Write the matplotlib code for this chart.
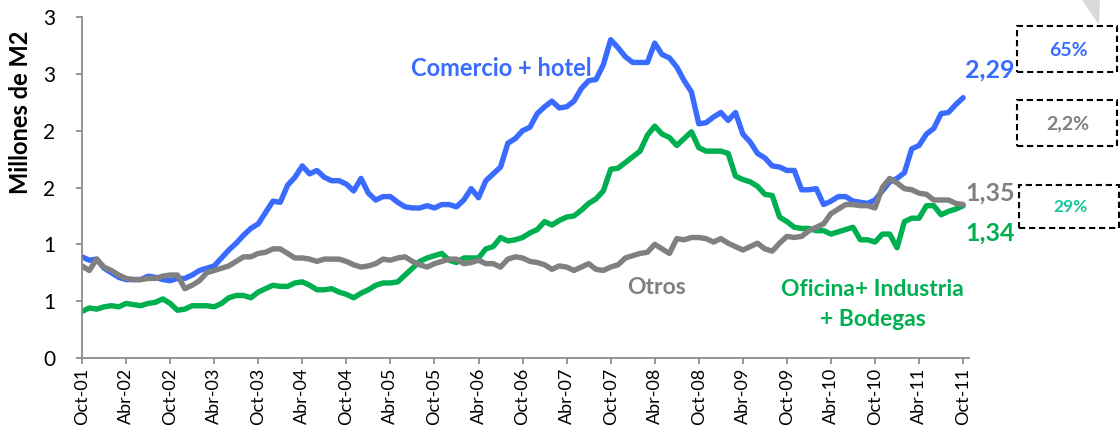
import numpy as np
import matplotlib.pyplot as plt
from matplotlib.patches import Rectangle, Polygon

# Millones de M2, mensual Oct-01 .. Oct-11 (121 meses)
comercio_hotel = [
    0.89, 0.86, 0.87, 0.79, 0.75, 0.71, 0.69, 0.69, 0.69, 0.72,
    0.71, 0.69, 0.68, 0.70, 0.70, 0.73, 0.77, 0.79, 0.81, 0.88,
    0.95, 1.01, 1.08, 1.14, 1.18, 1.28, 1.38, 1.37, 1.52, 1.59,
    1.69, 1.62, 1.65, 1.59, 1.56, 1.56, 1.53, 1.47, 1.58, 1.45,
    1.39, 1.42, 1.42, 1.37, 1.33, 1.32, 1.32, 1.34, 1.32, 1.35,
    1.35, 1.33, 1.39, 1.49, 1.41, 1.56, 1.62, 1.68, 1.89, 1.93,
    2.00, 2.03, 2.15, 2.21, 2.26, 2.20, 2.21, 2.26, 2.37, 2.44,
    2.45, 2.58, 2.80, 2.73, 2.65, 2.60, 2.60, 2.60, 2.77, 2.67,
    2.64, 2.56, 2.44, 2.34, 2.06, 2.07, 2.12, 2.16, 2.09, 2.16,
    1.97, 1.90, 1.80, 1.76, 1.69, 1.68, 1.65, 1.65, 1.48, 1.48,
    1.49, 1.35, 1.38, 1.42, 1.42, 1.38, 1.37, 1.36, 1.39, 1.47,
    1.55, 1.58, 1.63, 1.84, 1.87, 1.97, 2.02, 2.15, 2.16, 2.23, 2.29]

otros = [
    0.81, 0.77, 0.87, 0.80, 0.77, 0.73, 0.70, 0.69, 0.69, 0.70,
    0.70, 0.72, 0.73, 0.73, 0.61, 0.64, 0.68, 0.75, 0.77, 0.79,
    0.81, 0.85, 0.89, 0.89, 0.92, 0.93, 0.96, 0.96, 0.92, 0.88,
    0.88, 0.87, 0.85, 0.87, 0.87, 0.87, 0.85, 0.82, 0.80, 0.81,
    0.83, 0.87, 0.86, 0.88, 0.89, 0.85, 0.82, 0.80, 0.83, 0.85,
    0.87, 0.87, 0.83, 0.84, 0.86, 0.83, 0.83, 0.80, 0.87, 0.89,
    0.88, 0.85, 0.84, 0.82, 0.78, 0.81, 0.80, 0.77, 0.80, 0.83,
    0.78, 0.77, 0.80, 0.82, 0.88, 0.90, 0.92, 0.93, 1.00, 0.96,
    0.92, 1.05, 1.04, 1.06, 1.06, 1.05, 1.02, 1.05, 1.01, 0.98,
    0.95, 0.98, 1.01, 0.96, 0.94, 1.01, 1.07, 1.06, 1.07, 1.12,
    1.15, 1.18, 1.27, 1.31, 1.35, 1.35, 1.34, 1.34, 1.32, 1.50,
    1.58, 1.54, 1.49, 1.48, 1.45, 1.44, 1.39, 1.39, 1.39, 1.36, 1.35]

oficina_ind_bod = [
    0.41, 0.44, 0.43, 0.45, 0.46, 0.45, 0.48, 0.47, 0.46, 0.48,
    0.49, 0.52, 0.48, 0.42, 0.43, 0.46, 0.46, 0.46, 0.45, 0.48,
    0.53, 0.55, 0.55, 0.53, 0.58, 0.61, 0.64, 0.63, 0.63, 0.66,
    0.67, 0.64, 0.60, 0.60, 0.61, 0.58, 0.56, 0.53, 0.57, 0.60,
    0.64, 0.66, 0.66, 0.67, 0.73, 0.79, 0.85, 0.88, 0.90, 0.92,
    0.86, 0.84, 0.88, 0.88, 0.88, 0.96, 0.98, 1.06, 1.03, 1.04,
    1.06, 1.10, 1.13, 1.20, 1.17, 1.21, 1.24, 1.25, 1.30, 1.36,
    1.40, 1.47, 1.66, 1.67, 1.72, 1.77, 1.82, 1.96, 2.04, 1.97,
    1.94, 1.87, 1.93, 1.99, 1.85, 1.82, 1.82, 1.82, 1.80, 1.60,
    1.57, 1.55, 1.51, 1.44, 1.43, 1.24, 1.20, 1.15, 1.14, 1.14,
    1.12, 1.12, 1.09, 1.11, 1.13, 1.15, 1.04, 1.04, 1.02, 1.09,
    1.09, 0.97, 1.20, 1.23, 1.23, 1.34, 1.34, 1.26, 1.29, 1.31, 1.34]

tick_labels = ["Oct-01", "Abr-02", "Oct-02", "Abr-03", "Oct-03", "Abr-04",
               "Oct-04", "Abr-05", "Oct-05", "Abr-06", "Oct-06", "Abr-07",
               "Oct-07", "Abr-08", "Oct-08", "Abr-09", "Oct-09", "Abr-10",
               "Oct-10", "Abr-11", "Oct-11"]
y_ticks = [0, 0.5, 1.0, 1.5, 2.0, 2.5, 3.0]
y_tick_labels = ["0", "1", "1", "2", "2", "3", "3"]

# participacion
shares = ["65%", "2,2%", "29%"]

blue = '#3A6BFF'
green = '#00B050'
grey = '#808080'
teal = '#14C79A'
axis_grey = '#8C8C8C'

plt.rcParams['font.family'] = ['Lato', 'DejaVu Sans']

W, H = 1120, 433
fig = plt.figure(figsize=(W / 100, H / 100), dpi=100)
ax = fig.add_axes([82 / W, 75 / H, 887 / W, 341 / H])

x = np.arange(len(comercio_hotel))
lw = 3.9
ax.plot(x, comercio_hotel, color=blue, lw=lw, solid_joinstyle='round', solid_capstyle='round')
ax.plot(x, oficina_ind_bod, color=green, lw=lw, solid_joinstyle='round', solid_capstyle='round')
ax.plot(x, otros, color=grey, lw=lw, solid_joinstyle='round', solid_capstyle='round')

ax.set_xlim(0, 120.8)
ax.set_ylim(0, 3)
ax.set_xticks(np.arange(0, 121, 6))
ax.set_xticklabels(tick_labels, rotation=90, fontsize=13)
ax.set_yticks(y_ticks)
ax.set_yticklabels(y_tick_labels, fontsize=15)

for s in ['top', 'right']:
    ax.spines[s].set_visible(False)
for s in ['left', 'bottom']:
    ax.spines[s].set_color(axis_grey)
    ax.spines[s].set_linewidth(1.3)
ax.tick_params(axis='both', direction='out', length=4, width=1.3, color=axis_grey, pad=3)
ax.tick_params(axis='y', pad=15)


def ftext(px, py, s, **kw):
    fig.text(px / W, 1 - py / H, s, ha='center', va='center', fontweight='bold', **kw)


ftext(21, 112, "Millones de M2", rotation=90, fontsize=17, color='black')
ftext(501, 69, "Comercio + hotel", fontsize=17, color=blue)
ftext(657, 288, "Otros", fontsize=16.5, color=grey)
ftext(872, 290, "Oficina+ Industria", fontsize=16.5, color=green)
ftext(873, 320, "+ Bodegas", fontsize=16.5, color=green)

# etiquetas del ultimo valor
ftext(990, 70, f"{comercio_hotel[-1]:.2f}".replace('.', ','), fontsize=18, color=blue)
ftext(990, 193, f"{otros[-1]:.2f}".replace('.', ','), fontsize=18, color=grey)
ftext(990, 233, f"{oficina_ind_bod[-1]:.2f}".replace('.', ','), fontsize=18, color=green)

# cajas punteadas con participacion
boxes = [(1017, 26, 100, 46), (1017, 100, 100, 46), (1019, 185, 100, 43)]
box_colors = [blue, grey, teal]
box_sizes = [14, 14, 12.5]
for (bx, by, bw, bh), label, c, fs in zip(boxes, shares, box_colors, box_sizes):
    fig.add_artist(Rectangle((bx / W, 1 - (by + bh) / H), bw / W, bh / H,
                             transform=fig.transFigure, fill=False, edgecolor='black',
                             lw=1.5, linestyle=(0, (3, 1.8))))
    ftext(bx + bw / 2 + 1, by + bh / 2 + 1, label, fontsize=fs, color=c)

# esquina gris arriba a la derecha
fig.add_artist(Polygon([(1082 / W, 1.0), (1100 / W, 1.0), (1099 / W, 1 - 25 / H)],
                       closed=True, transform=fig.transFigure, facecolor='#D9D9D9',
                       edgecolor='none'))

fig.savefig('out.png', dpi=100)
